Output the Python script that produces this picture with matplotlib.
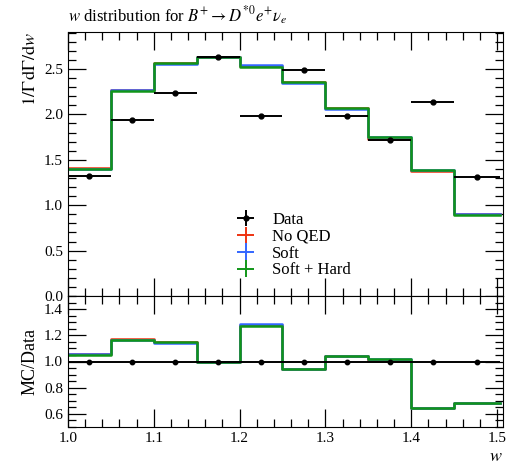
import numpy as np
import matplotlib
matplotlib.use("Agg")
import matplotlib.pyplot as plt
from matplotlib.ticker import MultipleLocator

plt.rcParams['font.family'] = ['Liberation Serif', 'DejaVu Serif']
plt.rcParams['mathtext.fontset'] = 'stix'

# w binning (last bin runs to the kinematic endpoint)
bin_edges = [1.0, 1.05, 1.1, 1.15, 1.2, 1.25, 1.3, 1.35, 1.4, 1.45, 1.504]

data_vals = [1.325, 1.94, 2.235, 2.63, 1.98, 2.49, 1.98, 1.72, 2.14, 1.31]
data_errs = [0.01, 0.01, 0.01, 0.01, 0.01, 0.01, 0.01, 0.01, 0.01, 0.01]

no_qed = [1.405, 2.27, 2.565, 2.63, 2.53, 2.355, 2.07, 1.73, 1.375, 0.90]
soft = [1.40, 2.265, 2.55, 2.63, 2.54, 2.35, 2.06, 1.75, 1.385, 0.90]
soft_hard = [1.395, 2.255, 2.565, 2.63, 2.52, 2.355, 2.065, 1.755, 1.385, 0.895]

labels = ["No QED", "Soft", "Soft + Hard"]
colors = ["#EE3311", "#3366FF", "#109618"]

edges = np.array(bin_edges)
centers = 0.5 * (edges[:-1] + edges[1:])
half_w = 0.5 * np.diff(edges)
data = np.array(data_vals)

fig = plt.figure(figsize=(5.09, 4.68), dpi=100)
ax = fig.add_axes([68 / 509, 1 - 296 / 468, 435 / 509, 264 / 468])
rax = fig.add_axes([68 / 509, 1 - 427 / 468, 435 / 509, 131 / 468], sharex=ax)


def step_line(axis, vals, color):
    v = np.append(vals, vals[-1])
    axis.step(edges, v, where='post', color=color, lw=1.8)


# main panel
handles = []
h = ax.errorbar(centers, data, xerr=half_w, yerr=data_errs, fmt='o', color='black',
                ms=3.5, lw=1.4, capsize=0, zorder=5)
handles.append(h)
for vals, col in zip([no_qed, soft, soft_hard], colors):
    step_line(ax, np.array(vals), col)
    handles.append(ax.errorbar([], [], xerr=[], yerr=[], fmt='none', color=col, lw=1.4))

ax.legend(handles, ["Data"] + labels, loc='upper left', bbox_to_anchor=(0.37, 0.35),
          frameon=False, fontsize=12, handlelength=1.0, handletextpad=1.1,
          labelspacing=0.05, borderpad=0)

ax.set_ylim(0, 2.907)
ax.yaxis.set_major_locator(MultipleLocator(0.5))
ax.yaxis.set_minor_locator(MultipleLocator(0.1))
ax.set_ylabel(r"$1/\Gamma\,\mathrm{d}\Gamma/\mathrm{d}w$", fontsize=13, loc='top')
ax.tick_params(labelbottom=False)
ax.set_title(r"$w$ distribution for $B^{+} \to D^{*0} e^{+} \nu_{e}$", loc='left',
             fontsize=12, pad=7)

# ratio panel
for vals, col in zip([no_qed, soft, soft_hard], colors):
    step_line(rax, np.array(vals) / data, col)
rax.errorbar(centers, np.ones_like(data), xerr=half_w, fmt='o', color='black',
             ms=3.2, lw=1.4, capsize=0, zorder=5)
rax.set_ylim(0.5, 1.5)
rax.yaxis.set_minor_locator(MultipleLocator(0.05))
rax.set_yticks([0.6, 0.8, 1.0, 1.2, 1.4])
rax.set_ylabel("MC/Data", fontsize=13)
rax.set_xlabel(r"$w$", fontsize=13, loc='right', labelpad=2)

rax.set_xlim(1.0, 1.507)
rax.xaxis.set_major_locator(MultipleLocator(0.1))
rax.xaxis.set_minor_locator(MultipleLocator(0.02))

for a in (ax, rax):
    a.tick_params(which='both', direction='in', top=True, right=True, labelsize=11)
    a.tick_params(which='major', length=13, width=0.9)
    a.tick_params(which='minor', length=6, width=0.9)

fig.savefig("out.png", dpi=100)
